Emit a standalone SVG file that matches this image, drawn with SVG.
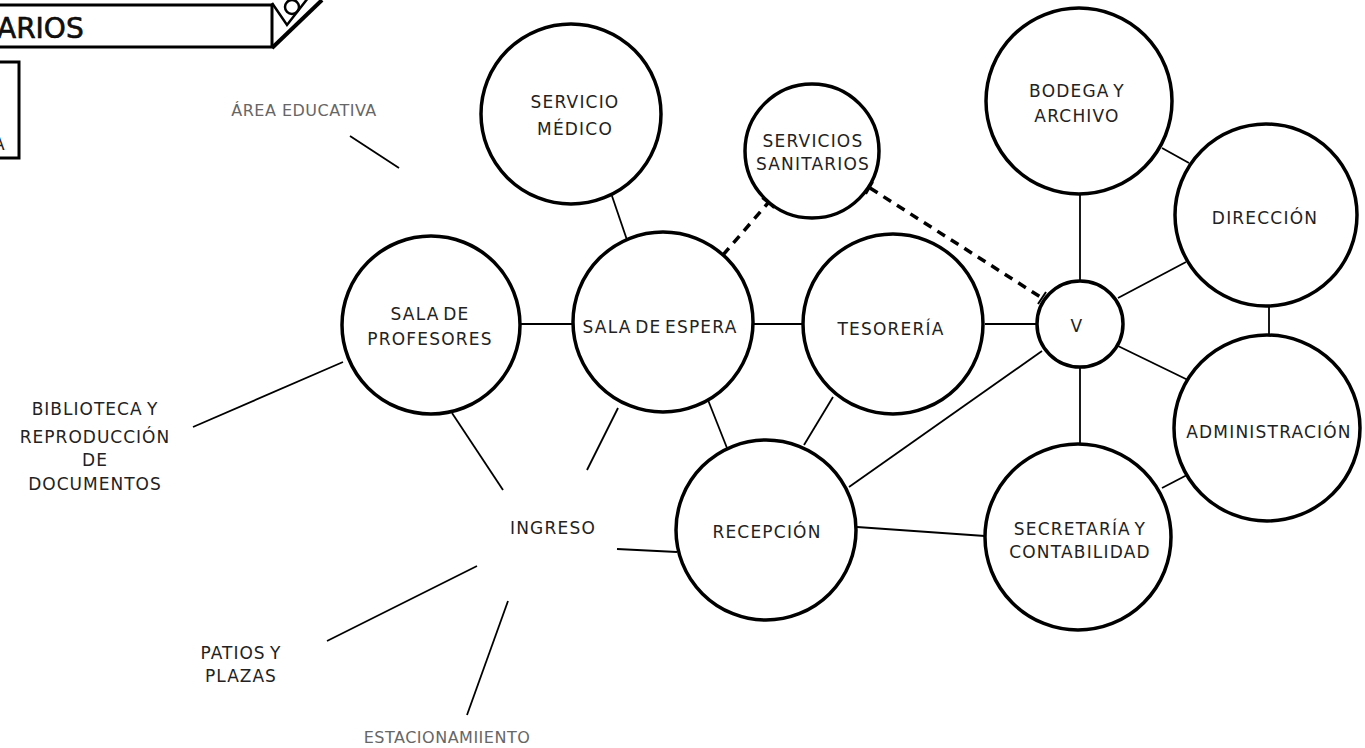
<svg xmlns="http://www.w3.org/2000/svg" width="1365" height="748" viewBox="0 0 1365 748">
  <style>
    .node { fill: #fff; stroke: #000; stroke-width: 3.5; }
    .link { stroke: #000; stroke-width: 1.8; fill: none; }
    .dash { stroke: #000; stroke-width: 3.5; fill: none; stroke-dasharray: 9 7; }
    .tick { stroke: #000; stroke-width: 2; }
    .lbl { font-family: "DejaVu Sans", "Liberation Sans", sans-serif; font-size: 17px; letter-spacing: 1.2px; word-spacing: -3px; fill: #222; text-anchor: middle; }
    .side { font-family: "DejaVu Sans", "Liberation Sans", sans-serif; font-size: 17px; letter-spacing: 1px; word-spacing: -2px; fill: #222; text-anchor: middle; }
    .grey { font-family: "DejaVu Sans", "Liberation Sans", sans-serif; font-size: 16px; letter-spacing: 0.5px; fill: #666; text-anchor: middle; }
    .frame { fill: #fff; stroke: #000; stroke-width: 3; }
  </style>

  <rect width="1365" height="748" fill="#fff"/>

  <!-- title strip, cut at the page edge -->
  <g id="title">
    <rect class="frame" x="-10" y="5" width="282" height="42"/>
    <text x="-3" y="38" font-family="DejaVu Sans, sans-serif" font-size="28" fill="#111" stroke="#000" stroke-width="0.6">ARIOS</text>
    <path d="M272 3 L287 25 L308 -2" fill="none" stroke="#000" stroke-width="2.5"/>
    <circle cx="292" cy="7" r="7" fill="none" stroke="#000" stroke-width="2.5"/>
    <line x1="272" y1="48" x2="322" y2="0" stroke="#000" stroke-width="4"/>
    <rect class="frame" x="-10" y="62" width="29" height="96"/>
    <text x="-7" y="150" font-family="DejaVu Sans, sans-serif" font-size="17" fill="#222">A</text>
  </g>

  <!-- connectors -->
  <g id="connectors">
    <line class="link" x1="612" y1="196" x2="627" y2="240"/>
    <line class="link" x1="520" y1="324" x2="575" y2="324"/>
    <line class="link" x1="752" y1="324" x2="803" y2="324"/>
    <line class="link" x1="985" y1="324" x2="1038" y2="324"/>
    <line class="link" x1="708" y1="400" x2="727" y2="448"/>
    <line class="link" x1="833" y1="397" x2="804" y2="445"/>
    <line class="link" x1="1042" y1="351" x2="849" y2="487"/>
    <line class="link" x1="857" y1="527" x2="985" y2="536"/>
    <line class="link" x1="1080" y1="195" x2="1080" y2="281"/>
    <line class="link" x1="1080" y1="367" x2="1080" y2="444"/>
    <line class="link" x1="1162" y1="148" x2="1189" y2="163"/>
    <line class="link" x1="1118" y1="298" x2="1186" y2="262"/>
    <line class="link" x1="1269" y1="305" x2="1269" y2="335"/>
    <line class="link" x1="1118" y1="346" x2="1190" y2="381"/>
    <line class="link" x1="1162" y1="488" x2="1187" y2="475"/>
    <!-- access lines around INGRESO -->
    <line class="link" x1="452" y1="413" x2="503" y2="490"/>
    <line class="link" x1="618" y1="408" x2="587" y2="470"/>
    <line class="link" x1="617" y1="549" x2="677" y2="552"/>
    <line class="link" x1="477" y1="566" x2="327" y2="641"/>
    <line class="link" x1="508" y1="601" x2="467" y2="715"/>
    <line class="link" x1="193" y1="427" x2="343" y2="362"/>
    <line class="link" x1="350" y1="136" x2="399" y2="168"/>
    <!-- dashed links to SERVICIOS SANITARIOS -->
    <line class="dash" x1="723" y1="255" x2="768" y2="203"/>
    <line class="tick" x1="716" y1="250" x2="729" y2="260"/>
    <line class="tick" x1="762" y1="198" x2="774" y2="208"/>
    <line class="dash" x1="870" y1="188" x2="1042" y2="298"/>
    <line class="tick" x1="866" y1="194" x2="873" y2="182"/>
    <line class="tick" x1="1038" y1="304" x2="1046" y2="292"/>
  </g>

  <g id="servicio-medico">
    <circle class="node" cx="571" cy="114" r="90"/>
    <text class="lbl" x="575" y="108">SERVICIO</text>
    <text class="lbl" x="575" y="135">MÉDICO</text>
  </g>
  <g id="servicios-sanitarios">
    <circle class="node" cx="812" cy="151" r="67"/>
    <text class="lbl" x="813" y="147">SERVICIOS</text>
    <text class="lbl" x="813" y="170">SANITARIOS</text>
  </g>
  <g id="bodega">
    <circle class="node" cx="1079" cy="101" r="93"/>
    <text class="lbl" x="1077" y="97">BODEGA Y</text>
    <text class="lbl" x="1077" y="122">ARCHIVO</text>
  </g>
  <g id="direccion">
    <circle class="node" cx="1266" cy="215" r="91"/>
    <text class="lbl" x="1265" y="224">DIRECCIÓN</text>
  </g>
  <g id="sala-profesores">
    <circle class="node" cx="431" cy="325" r="89"/>
    <text class="lbl" x="430" y="320">SALA DE</text>
    <text class="lbl" x="430" y="345">PROFESORES</text>
  </g>
  <g id="sala-espera">
    <circle class="node" cx="663" cy="322" r="90"/>
    <text class="lbl" x="660" y="333">SALA DE ESPERA</text>
  </g>
  <g id="tesoreria">
    <circle class="node" cx="893" cy="324" r="90"/>
    <text class="lbl" x="891" y="335">TESORERÍA</text>
  </g>
  <g id="vestibulo">
    <circle class="node" cx="1080" cy="324" r="43"/>
    <text class="lbl" x="1077" y="332">V</text>
  </g>
  <g id="administracion">
    <circle class="node" cx="1267" cy="428" r="93"/>
    <text class="lbl" x="1269" y="438">ADMINISTRACIÓN</text>
  </g>
  <g id="recepcion">
    <circle class="node" cx="766" cy="530" r="90"/>
    <text class="lbl" x="767" y="538">RECEPCIÓN</text>
  </g>
  <g id="secretaria">
    <circle class="node" cx="1078" cy="537" r="93"/>
    <text class="lbl" x="1080" y="535">SECRETARÍA Y</text>
    <text class="lbl" x="1080" y="558">CONTABILIDAD</text>
  </g>

  <g id="ingreso">
    <text class="lbl" x="553" y="534">INGRESO</text>
  </g>
  <g id="area-educativa">
    <text class="grey" x="304" y="116">ÁREA EDUCATIVA</text>
  </g>
  <g id="biblioteca">
    <text class="side" x="95" y="415">BIBLIOTECA Y</text>
    <text class="side" x="95" y="443">REPRODUCCIÓN</text>
    <text class="side" x="95" y="466">DE</text>
    <text class="side" x="95" y="490">DOCUMENTOS</text>
  </g>
  <g id="patios">
    <text class="side" x="241" y="659">PATIOS Y</text>
    <text class="side" x="241" y="682">PLAZAS</text>
  </g>
  <g id="estacionamiento">
    <text class="grey" x="447" y="743">ESTACIONAMIIENTO</text>
  </g>
</svg>
